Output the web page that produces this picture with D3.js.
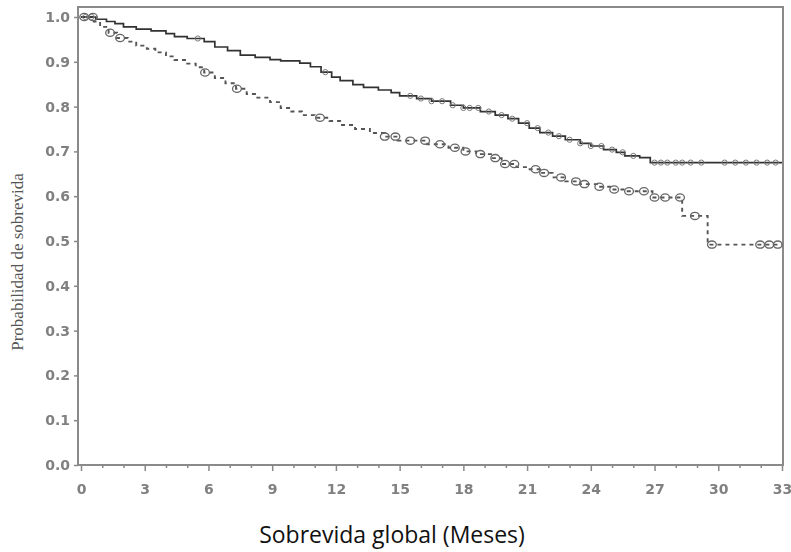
<!DOCTYPE html>
<html><head><meta charset="utf-8">
<script src="https://cdn.jsdelivr.net/npm/d3@7"></script>
<style>html,body{margin:0;padding:0;background:#fff}</style>
</head><body>
<svg id="c" width="791" height="552"></svg>
<script>
// Months of x ticks and y tick values
const xTicks = [0,3,6,9,12,15,18,21,24,27,30,33];
const yTicks = [0,0.1,0.2,0.3,0.4,0.5,0.6,0.7,0.8,0.9,1.0];

// Solid group: step change points [month, survival]
const solidMonths = [0,0.7,1.2,1.6,2.0,2.6,3.3,4.0,4.4,5.0,5.8,6.3,6.9,7.5,8.2,8.9,9.4,10.3,10.8,11.3,11.8,12.2,12.8,13.3,14.0,14.6,15.0,15.8,16.5,17.4,18.0,18.8,19.5,20.1,20.6,21.1,21.6,22.2,22.8,23.5,24.0,24.6,25.2,25.6,26.3,26.8,33];
const solidSurv   = [1.0,0.995,0.99,0.985,0.978,0.973,0.969,0.963,0.956,0.952,0.945,0.933,0.925,0.915,0.910,0.905,0.902,0.897,0.889,0.877,0.866,0.858,0.849,0.843,0.837,0.831,0.824,0.818,0.812,0.803,0.797,0.789,0.781,0.773,0.763,0.752,0.742,0.734,0.726,0.718,0.712,0.704,0.698,0.690,0.686,0.675,0.675];
const solidCensor = [0.2,0.5,5.5,11.5,15.5,16.0,16.5,17.0,17.5,18.0,18.3,18.7,19.2,19.8,20.3,21.0,21.5,22.0,22.5,23.0,23.5,24.0,24.5,25.0,25.5,26.0,27.0,27.3,27.6,28.0,28.3,28.7,29.2,30.3,30.8,31.3,31.8,32.3,32.7];

// Dashed group
const dashMonths = [0,0.6,0.9,1.3,1.7,2.2,2.6,3.1,3.5,4.0,4.4,5.0,5.4,5.8,6.3,6.8,7.3,7.8,8.3,8.9,9.4,9.9,10.4,11.0,11.7,12.2,12.9,13.6,14.3,14.9,16.3,17.3,18.0,18.6,19.3,19.8,20.5,21.0,21.6,22.2,22.8,23.5,24.3,25.0,25.6,26.9,28.3,29.5,33];
const dashSurv   = [1.0,0.99,0.978,0.965,0.953,0.945,0.936,0.929,0.921,0.912,0.904,0.896,0.888,0.876,0.864,0.852,0.840,0.828,0.820,0.810,0.797,0.789,0.781,0.775,0.768,0.759,0.750,0.741,0.733,0.724,0.716,0.708,0.700,0.694,0.685,0.672,0.665,0.660,0.652,0.642,0.633,0.627,0.621,0.615,0.611,0.597,0.556,0.492,0.492];
const dashCensor = [0.15,0.56,1.37,1.84,5.84,7.34,11.25,14.3,14.8,15.5,16.2,16.9,17.6,18.1,18.8,19.5,19.96,20.4,21.4,21.8,22.6,23.3,23.7,24.4,25.1,25.8,26.5,27.0,27.5,28.2,28.9,29.7,31.97,32.4,32.8];

const svg = d3.select('#c');
const x = d3.scaleLinear().domain([0,33]).range([81,782]);
const y = d3.scaleLinear().domain([0,1]).range([465,17]);

const defs = svg.append('defs');
defs.append('filter').attr('id','blur').append('feGaussianBlur').attr('stdDeviation',0.55);
defs.append('filter').attr('id','tblur').append('feGaussianBlur').attr('stdDeviation',0.4);

// frame
svg.append('rect').attr('x',78).attr('y',7).attr('width',705).attr('height',458)
  .attr('fill','none').attr('stroke','#8a8a8a').attr('stroke-width',2);

// x axis
const xa = svg.append('g').attr('transform','translate(0,465)')
  .call(d3.axisBottom(x).tickValues(xTicks).tickSize(6).tickFormat(d3.format('d')).tickPadding(13));
xa.select('.domain').remove();
const xm = svg.append('g').attr('transform','translate(0,465)')
  .call(d3.axisBottom(x).tickValues(d3.range(0,34).filter(d=>d%3)).tickSize(3).tickFormat(''));
xm.select('.domain').remove();
// y axis
const ya = svg.append('g').attr('transform','translate(78,0)')
  .call(d3.axisLeft(y).tickValues(yTicks).tickSize(4).tickFormat(d3.format('.1f')).tickPadding(4));
ya.select('.domain').remove();
svg.selectAll('.tick line').attr('stroke','#888').attr('stroke-width',1.5);
svg.selectAll('.tick text').attr('fill','#808080').attr('filter','url(#tblur)')
  .style('font-family','"DejaVu Sans", sans-serif')
  .style('font-size','14px').style('font-weight','bold');

function stepPoints(ms, ss){ return ms.map((m,i)=>[m, ss[i]]); }
function survAt(ms, ss, t){ let v = ss[0]; for(let i=0;i<ms.length;i++){ if(ms[i]<=t) v=ss[i]; } return v; }

const line = d3.line().x(d=>x(d[0])).y(d=>y(d[1])).curve(d3.curveStepAfter);

const g = svg.append('g').attr('filter','url(#blur)');
g.append('path').datum(stepPoints(dashMonths,dashSurv)).attr('d',line)
  .attr('fill','none').attr('stroke','#555').attr('stroke-width',1.9).attr('stroke-dasharray','4,4');
g.append('path').datum(stepPoints(solidMonths,solidSurv)).attr('d',line)
  .attr('fill','none').attr('stroke','#333').attr('stroke-width',1.7);

g.selectAll('ellipse.d').data(dashCensor).enter().append('ellipse').attr('class','d')
  .attr('cx',d=>x(d)).attr('cy',d=>y(survAt(dashMonths,dashSurv,d)))
  .attr('rx',4.4).attr('ry',3.6).attr('fill','none').attr('stroke','#666').attr('stroke-width',1.3);
g.selectAll('circle.s').data(solidCensor).enter().append('circle').attr('class','s')
  .attr('cx',d=>x(d)).attr('cy',d=>y(survAt(solidMonths,solidSurv,d)))
  .attr('r',2.6).attr('fill','none').attr('stroke','#777').attr('stroke-width',1);

// axis titles
svg.append('text').attr('transform','translate(23,262) rotate(-90)').attr('text-anchor','middle')
  .style('font-family','"Liberation Serif", serif').style('font-size','17px').attr('fill','#555')
  .text('Probabilidad de sobrevida');
svg.append('text').attr('x',392).attr('y',543).attr('text-anchor','middle')
  .style('font-family','"Open Sans", sans-serif').style('font-size','23px').attr('fill','#111')
  .text('Sobrevida global (Meses)');
</script>
</body></html>
